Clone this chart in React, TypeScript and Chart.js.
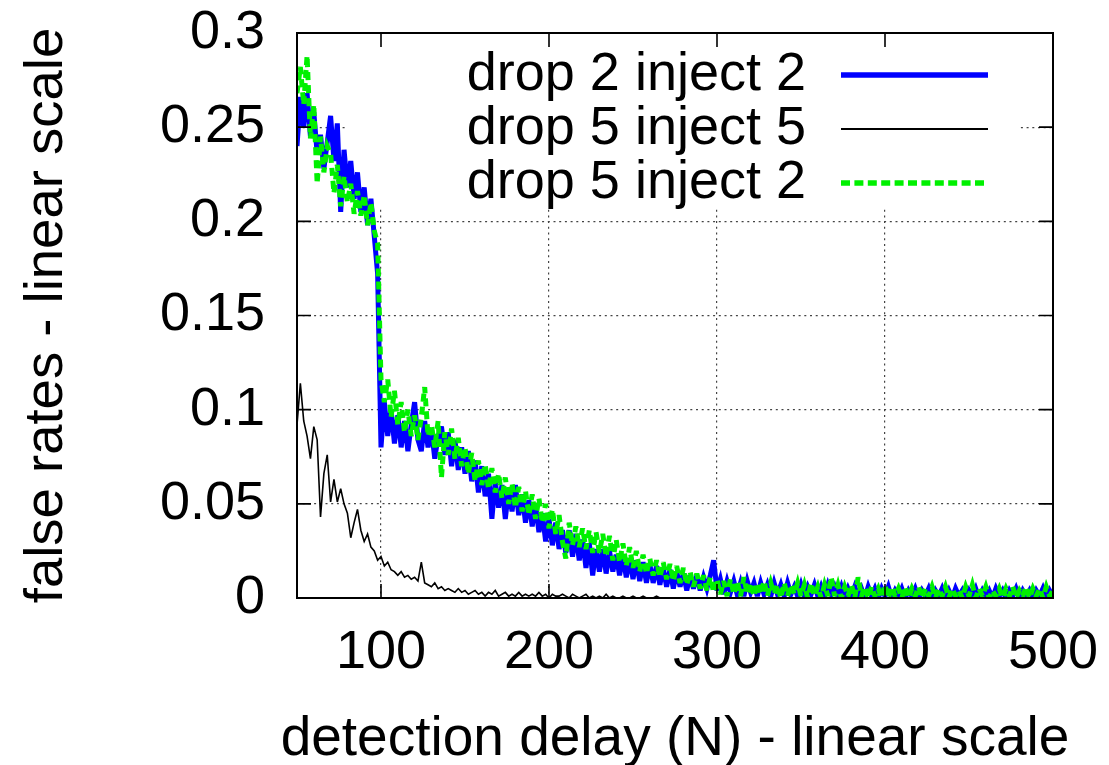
import React, { useEffect, useRef } from 'react';
import { Chart, registerables } from 'chart.js';

Chart.register(...registerables);

// detection delay N, sampled every 2 from 50 to 500
const DELAYS: number[] = Array.from({ length: 226 }, (_, i) => 50 + 2 * i);

const SERIES_LABELS = ['drop 2 inject 2', 'drop 5 inject 5', 'drop 5 inject 2'];

const X_TICKS = [100, 200, 300, 400, 500];
const Y_TICKS = [0, 0.05, 0.1, 0.15, 0.2, 0.25, 0.3];

const X_TITLE = 'detection delay (N) - linear scale';
const Y_TITLE = 'false rates - linear scale';

// drop 2 inject 2
const DROP2_INJECT2: number[] = [
  0.240, 0.266, 0.250, 0.268, 0.245, 0.258, 0.236, 0.246, 0.228, 0.242,
  0.256, 0.232, 0.252, 0.205, 0.238, 0.218, 0.232, 0.212, 0.226, 0.205,
  0.218, 0.198, 0.212, 0.192, 0.172, 0.080, 0.104, 0.086, 0.100, 0.082,
  0.097, 0.080, 0.094, 0.078, 0.092, 0.104, 0.084, 0.078, 0.094, 0.080,
  0.090, 0.074, 0.086, 0.091, 0.076, 0.088, 0.070, 0.084, 0.068, 0.080,
  0.066, 0.078, 0.062, 0.073, 0.056, 0.070, 0.054, 0.066, 0.042, 0.062,
  0.048, 0.060, 0.042, 0.058, 0.046, 0.060, 0.044, 0.055, 0.040, 0.052,
  0.038, 0.050, 0.035, 0.045, 0.030, 0.042, 0.028, 0.040, 0.026, 0.036,
  0.024, 0.036, 0.022, 0.034, 0.020, 0.031, 0.016, 0.029, 0.012, 0.026,
  0.014, 0.026, 0.013, 0.025, 0.014, 0.023, 0.012, 0.022, 0.011, 0.021,
  0.010, 0.020, 0.009, 0.019, 0.008, 0.018, 0.008, 0.017, 0.007, 0.016,
  0.006, 0.015, 0.005, 0.014, 0.006, 0.013, 0.004, 0.012, 0.005, 0.012,
  0.004, 0.011, 0.005, 0.012, 0.020, 0.004, 0.010, 0.002, 0.009, 0.003,
  0.009, 0.002, 0.008, 0.001, 0.009, 0.003, 0.008, 0.001, 0.008, 0.002,
  0.007, 0.001, 0.008, 0.002, 0.007, 0.001, 0.008, 0.002, 0.006, 0.001,
  0.007, 0.001, 0.006, 0.002, 0.007, 0.001, 0.006, 0.001, 0.007, 0.002,
  0.006, 0.001, 0.006, 0.000, 0.005, 0.001, 0.006, 0.001, 0.005, 0.000,
  0.006, 0.001, 0.005, 0.000, 0.005, 0.001, 0.006, 0.000, 0.004, 0.001,
  0.005, 0.000, 0.004, 0.001, 0.005, 0.000, 0.004, 0.001, 0.005, 0.000,
  0.004, 0.001, 0.005, 0.000, 0.004, 0.000, 0.005, 0.001, 0.004, 0.000,
  0.004, 0.001, 0.005, 0.000, 0.004, 0.001, 0.004, 0.000, 0.005, 0.001,
  0.004, 0.000, 0.004, 0.001, 0.005, 0.000, 0.004, 0.001, 0.004, 0.000,
  0.004, 0.001, 0.005, 0.000, 0.004, 0.001,
];

// drop 5 inject 5
const DROP5_INJECT5: number[] = [
  0.092, 0.114, 0.094, 0.086, 0.074, 0.091, 0.084, 0.043, 0.066, 0.076,
  0.051, 0.063, 0.051, 0.058, 0.050, 0.045, 0.032, 0.040, 0.047, 0.036,
  0.030, 0.034, 0.027, 0.025, 0.020, 0.022, 0.017, 0.019, 0.015, 0.014,
  0.012, 0.014, 0.011, 0.012, 0.010, 0.011, 0.009, 0.019, 0.008, 0.007,
  0.006, 0.008, 0.005, 0.006, 0.004, 0.005, 0.004, 0.003, 0.005, 0.003,
  0.004, 0.002, 0.003, 0.004, 0.002, 0.003, 0.001, 0.003, 0.002, 0.004,
  0.001, 0.002, 0.003, 0.001, 0.002, 0.001, 0.003, 0.001, 0.002, 0.001,
  0.002, 0.001, 0.003, 0.001, 0.002, 0.000, 0.002, 0.001, 0.001, 0.002,
  0.001, 0.000, 0.002, 0.001, 0.000, 0.001, 0.002, 0.000, 0.001, 0.000,
  0.001, 0.000, 0.002, 0.000, 0.001, 0.000, 0.000, 0.001, 0.000, 0.000,
  0.001, 0.000, 0.000, 0.001, 0.000, 0.000, 0.000, 0.001, 0.000, 0.000,
  0, 0, 0, 0, 0, 0, 0, 0, 0, 0,
  0, 0, 0, 0, 0, 0, 0, 0, 0, 0,
  0, 0, 0, 0, 0, 0, 0, 0, 0, 0,
  0, 0, 0, 0, 0, 0, 0, 0, 0, 0,
  0, 0, 0, 0, 0, 0, 0, 0, 0, 0,
  0, 0, 0, 0, 0, 0, 0, 0, 0, 0,
  0, 0, 0, 0, 0, 0, 0, 0, 0, 0,
  0, 0, 0, 0, 0, 0, 0, 0, 0, 0,
  0, 0, 0, 0, 0, 0, 0, 0, 0, 0,
  0, 0, 0, 0, 0, 0, 0, 0, 0, 0,
  0, 0, 0, 0, 0, 0, 0, 0, 0, 0,
  0, 0, 0, 0, 0, 0, 0, 0, 0, 0,
  0, 0, 0, 0, 0, 0,
];

// drop 5 inject 2
const DROP5_INJECT2: number[] = [
  0.268, 0.282, 0.262, 0.288, 0.244, 0.262, 0.220, 0.245, 0.226, 0.240,
  0.236, 0.215, 0.230, 0.208, 0.224, 0.210, 0.220, 0.204, 0.216, 0.203,
  0.214, 0.198, 0.210, 0.195, 0.188, 0.116, 0.104, 0.116, 0.096, 0.110,
  0.092, 0.104, 0.088, 0.100, 0.086, 0.097, 0.084, 0.096, 0.112, 0.086,
  0.092, 0.080, 0.094, 0.064, 0.088, 0.076, 0.090, 0.074, 0.085, 0.070,
  0.080, 0.066, 0.077, 0.062, 0.073, 0.060, 0.071, 0.058, 0.069, 0.056,
  0.066, 0.053, 0.064, 0.050, 0.061, 0.048, 0.059, 0.046, 0.057, 0.044,
  0.055, 0.042, 0.053, 0.040, 0.050, 0.037, 0.047, 0.034, 0.044, 0.030,
  0.021, 0.040, 0.028, 0.038, 0.027, 0.037, 0.026, 0.036, 0.024, 0.035,
  0.024, 0.034, 0.022, 0.033, 0.020, 0.031, 0.019, 0.029, 0.017, 0.027,
  0.016, 0.025, 0.014, 0.023, 0.013, 0.021, 0.012, 0.020, 0.011, 0.019,
  0.010, 0.018, 0.009, 0.017, 0.008, 0.016, 0.007, 0.014, 0.006, 0.013,
  0.005, 0.012, 0.004, 0.011, 0.003, 0.010, 0.002, 0.009, 0.001, 0.010,
  0.002, 0.009, 0.001, 0.011, 0.002, 0.008, 0.001, 0.008, 0.002, 0.009,
  0.001, 0.008, 0.002, 0.007, 0.000, 0.008, 0.001, 0.007, 0.002, 0.008,
  0.001, 0.007, 0.000, 0.008, 0.001, 0.006, 0.000, 0.007, 0.001, 0.011,
  0.001, 0.007, 0.000, 0.006, 0.001, 0.007, 0.000, 0.011, 0.001, 0.006,
  0.000, 0.006, 0.001, 0.005, 0.000, 0.007, 0.000, 0.006, 0.001, 0.005,
  0.000, 0.006, 0.000, 0.005, 0.001, 0.006, 0.000, 0.005, 0.001, 0.006,
  0.000, 0.005, 0.001, 0.006, 0.000, 0.005, 0.001, 0.004, 0.000, 0.006,
  0.001, 0.007, 0.000, 0.005, 0.001, 0.006, 0.000, 0.004, 0.001, 0.005,
  0.000, 0.005, 0.001, 0.006, 0.000, 0.004, 0.001, 0.006, 0.000, 0.005,
  0.001, 0.005, 0.000, 0.006, 0.001, 0.004,
];

const BLUE = '#0000ff';
const GREEN = '#00f000';
const BLACK = '#000000';
const FONT = '"Liberation Sans", Arial, Helvetica, sans-serif';

const toPoints = (vals: number[]) => vals.map((v, i) => ({ x: DELAYS[i], y: v }));

const gnuplotFrame = {
  id: 'gnuplotFrame',
  beforeDatasetsDraw(chart: any) {
    const { ctx, chartArea: a } = chart;
    ctx.save();
    ctx.fillStyle = '#ffffff';
    // opaque key box
    ctx.fillRect(a.left + 48, a.top, 673, 175);
    ctx.restore();
    ctx.miterLimit = 4;
  },
  afterDatasetsDraw(chart: any) {
    const { ctx, chartArea: a, scales } = chart;
    const xs = scales.x;
    const ys = scales.y;
    ctx.save();
    ctx.miterLimit = 10;
    ctx.strokeStyle = '#000';
    ctx.lineWidth = 2;
    ctx.setLineDash([]);
    ctx.strokeRect(a.left, a.top, a.right - a.left, a.bottom - a.top);
    const tl = 14;
    ctx.lineWidth = 1.6;
    ctx.beginPath();
    X_TICKS.forEach((v) => {
      const px = xs.getPixelForValue(v);
      ctx.moveTo(px, a.bottom);
      ctx.lineTo(px, a.bottom - tl);
      ctx.moveTo(px, a.top);
      ctx.lineTo(px, a.top + tl);
    });
    Y_TICKS.forEach((v) => {
      const py = ys.getPixelForValue(v);
      ctx.moveTo(a.left, py);
      ctx.lineTo(a.left + tl, py);
      ctx.moveTo(a.right, py);
      ctx.lineTo(a.right - tl, py);
    });
    ctx.stroke();

    // key
    const styles = [
      { color: BLUE, width: 5.5, dash: [] as number[] },
      { color: BLACK, width: 2, dash: [] as number[] },
      { color: GREEN, width: 5.5, dash: [9, 4.4] },
    ];
    ctx.font = `54px ${FONT}`;
    ctx.textAlign = 'right';
    ctx.textBaseline = 'middle';
    ctx.fillStyle = '#000';
    SERIES_LABELS.forEach((lab, i) => {
      const y = a.top + 42 + i * 54;
      ctx.fillText(lab, 806, y);
      ctx.beginPath();
      ctx.strokeStyle = styles[i].color;
      ctx.lineWidth = styles[i].width;
      ctx.setLineDash(styles[i].dash);
      ctx.lineCap = 'butt';
      ctx.moveTo(841, y);
      ctx.lineTo(988, y);
      ctx.stroke();
    });

    // axis titles (drawn without width compression)
    ctx.fillStyle = '#000';
    ctx.textAlign = 'center';
    ctx.textBaseline = 'alphabetic';
    ctx.font = `55px ${FONT}`;
    ctx.fillText(X_TITLE, (a.left + a.right) / 2, 755);
    ctx.save();
    ctx.translate(62, (a.top + a.bottom) / 2);
    ctx.rotate(-Math.PI / 2);
    ctx.font = `54.5px ${FONT}`;
    ctx.fillText(Y_TITLE, 0, 0);
    ctx.restore();
    ctx.restore();
  },
};

export default function App() {
  const ref = useRef<HTMLCanvasElement | null>(null);
  useEffect(() => {
    document.body.style.margin = '0';
    const canvas = ref.current;
    if (!canvas) return;
    const chart = new Chart(canvas, {
      type: 'line',
      data: {
        datasets: [
          {
            label: SERIES_LABELS[0],
            data: toPoints(DROP2_INJECT2),
            borderColor: BLUE,
            backgroundColor: BLUE,
            borderWidth: 5,
            pointRadius: 0,
            borderJoinStyle: 'miter',
            tension: 0,
            order: 2,
          },
          {
            label: SERIES_LABELS[1],
            data: toPoints(DROP5_INJECT5),
            borderColor: BLACK,
            backgroundColor: BLACK,
            borderWidth: 1.6,
            pointRadius: 0,
            borderJoinStyle: 'miter',
            tension: 0,
            order: 1,
          },
          {
            label: SERIES_LABELS[2],
            data: toPoints(DROP5_INJECT2),
            borderColor: GREEN,
            backgroundColor: GREEN,
            borderWidth: 5,
            borderDash: [8, 5],
            borderCapStyle: 'butt',
            pointRadius: 0,
            borderJoinStyle: 'miter',
            tension: 0,
            order: 0,
          },
        ],
      },
      options: {
        responsive: false,
        animation: false,
        events: [],
        layout: { padding: { left: 0, top: 33, right: 56, bottom: 0 } },
        plugins: {
          legend: { display: false },
          tooltip: { enabled: false },
        },
        scales: {
          x: {
            type: 'linear',
            min: 50,
            max: 500,
            afterBuildTicks: (scale: any) => {
              scale.ticks = X_TICKS.map((v) => ({ value: v }));
            },
            afterFit: (scale: any) => {
              scale.height = 167;
              scale.paddingLeft = 0;
              scale.paddingRight = 0;
            },
            grid: {
              drawTicks: false,
              lineWidth: 1.2,
              color: (c: any) => (c.tick && c.tick.value >= 500 ? 'rgba(0,0,0,0)' : '#444'),
            },
            border: { display: false, dash: [2, 3.7] },
            ticks: {
              color: '#000',
              padding: 28,
              maxRotation: 0,
              font: { family: FONT, size: 54, lineHeight: 1 },
              callback: (v: any) => String(v),
            },
            title: { display: false, text: X_TITLE },
          },
          y: {
            type: 'linear',
            min: 0,
            max: 0.3,
            afterBuildTicks: (scale: any) => {
              scale.ticks = Y_TICKS.map((v) => ({ value: v }));
            },
            afterFit: (scale: any) => {
              scale.width = 297;
              scale.paddingTop = 0;
              scale.paddingBottom = 0;
            },
            grid: {
              drawTicks: false,
              lineWidth: 1.2,
              color: (c: any) =>
                c.tick && (c.tick.value <= 0.0001 || c.tick.value >= 0.2999) ? 'rgba(0,0,0,0)' : '#444',
            },
            border: { display: false, dash: [2, 3.7] },
            ticks: {
              color: '#000',
              padding: 32,
              font: { family: FONT, size: 54, lineHeight: 1 },
              callback: (v: any) => String(Number(Number(v).toFixed(2))),
            },
            title: { display: false, text: Y_TITLE },
          },
        },
      },
      plugins: [gnuplotFrame],
    } as any);
    return () => chart.destroy();
  }, []);
  return (
    <canvas
      ref={ref}
      width={1109}
      height={765}
      style={{ display: 'block', width: 1109, height: 765 }}
    />
  );
}
